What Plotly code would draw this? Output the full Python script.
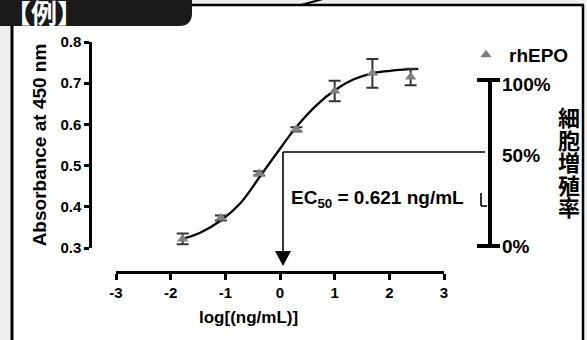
import plotly.graph_objects as go

# ---------------- data ----------------
log_conc = [-1.78, -1.08, -0.38, 0.30, 1.00, 1.69, 2.39]
absorbance = [0.322, 0.373, 0.481, 0.588, 0.681, 0.724, 0.715]
abs_sd = [0.013, 0.006, 0.005, 0.005, 0.025, 0.035, 0.020]

curve_x = [-1.74, -1.46, -1.07, -0.73, -0.37, -0.06, 0.30, 0.67, 1.00, 1.34, 1.69, 2.01, 2.38, 2.53]
curve_y = [0.324, 0.337, 0.368, 0.408, 0.473, 0.530, 0.594, 0.647, 0.683, 0.709, 0.724, 0.730, 0.734, 0.735]

x_ticks = [-3, -2, -1, 0, 1, 2, 3]
y_ticks = [0.3, 0.4, 0.5, 0.6, 0.7, 0.8]
pct_labels = ["100%", "50%", "0%"]
jp_title = "細胞増殖率"
ec50_text = "EC<sub>50</sub> = 0.621 ng/mL"

# ---------------- helpers ----------------
W, H = 587, 340
FONT = "Arial, Liberation Sans, sans-serif"
JFONT = "Noto Sans CJK JP, sans-serif"


def px(x):
    return x / W


def py(y):
    return 1 - y / H


fig = go.Figure()

fig.add_trace(go.Scatter(
    x=curve_x, y=curve_y, mode="lines", line=dict(color="black", width=2.3, shape="spline"),
    showlegend=False, hoverinfo="skip"))

fig.add_trace(go.Scatter(
    x=log_conc, y=absorbance, mode="markers", name="rhEPO",
    marker=dict(symbol="triangle-up", size=10, color="#808080"),
    error_y=dict(type="data", array=abs_sd, visible=True, color="#333333", thickness=2, width=6)))

shapes = []
# white card
shapes.append(dict(type="rect", xref="paper", yref="paper", x0=px(12), x1=px(583), y0=py(340), y1=py(5),
                   fillcolor="white", line=dict(width=0), layer="below"))
# card borders
for (x0, y0, x1, y1, w) in [(12, 20, 12, 341, 3), (190, 5, 584, 5, 2.5), (583, 5, 583, 341, 2.5)]:
    shapes.append(dict(type="line", xref="paper", yref="paper", x0=px(x0), y0=py(y0), x1=px(x1), y1=py(y1),
                       line=dict(color="black", width=w)))
# tab
tab = "M{},{} L{},{} L{},{} Q{},{} {},{} L{},{} Z".format(
    px(0), py(-2), px(192), py(-2), px(192), py(13), px(192), py(26), px(179), py(26), px(0), py(26))
shapes.append(dict(type="path", xref="paper", yref="paper", path=tab, fillcolor="#1a1a1a", line=dict(width=0)))
# small pointer tail
shapes.append(dict(type="line", xref="paper", yref="paper", x0=px(301), y0=py(5), x1=px(323), y1=py(-1),
                   line=dict(color="black", width=2)))
# EC50 guide lines
for (x0, y0, x1, y1) in [(283, 152, 485, 152), (283, 152, 283, 253), (481, 193, 481, 206), (481, 206, 487, 206)]:
    shapes.append(dict(type="line", xref="paper", yref="paper", x0=px(x0), y0=py(y0), x1=px(x1), y1=py(y1),
                       line=dict(color="black", width=1.6)))
arrow = "M{},{} L{},{} L{},{} Z".format(px(275), py(251), px(291), py(251), px(283), py(266))
shapes.append(dict(type="path", xref="paper", yref="paper", path=arrow, fillcolor="black", line=dict(width=0)))
# proliferation scale bar
for (x0, y0, x1, y1) in [(490, 80, 490, 246), (477, 80, 500, 80), (477, 246, 500, 246)]:
    shapes.append(dict(type="line", xref="paper", yref="paper", x0=px(x0), y0=py(y0), x1=px(x1), y1=py(y1),
                       line=dict(color="black", width=4)))

annotations = []
annotations.append(dict(text="【例】", x=px(44), y=py(12), xref="paper", yref="paper", showarrow=False,
                        xanchor="center", yanchor="middle",
                        font=dict(family=JFONT, size=26, color="white", weight="bold")))
annotations.append(dict(text=ec50_text, x=px(289), y=py(199), xref="paper", yref="paper", showarrow=False,
                        xanchor="left", yanchor="middle",
                        font=dict(family=FONT, size=19, color="black", weight="bold")))
for lab, yc in zip(pct_labels, [84, 156, 246]):
    annotations.append(dict(text=lab, x=px(500), y=py(yc), xref="paper", yref="paper", showarrow=False,
                            xanchor="left", yanchor="middle",
                            font=dict(family=FONT, size=19, color="black", weight="bold")))
for i, ch in enumerate(jp_title):
    annotations.append(dict(text=ch, x=px(568.5), y=py(116 + i * 22.6), xref="paper", yref="paper",
                            showarrow=False, xanchor="center", yanchor="middle",
                            font=dict(family=JFONT, size=22, color="black", weight="bold")))
annotations.append(dict(text="log[(ng/mL)]", x=px(248.5), y=py(317), xref="paper", yref="paper",
                        showarrow=False, xanchor="center", yanchor="middle",
                        font=dict(family=FONT, size=17, color="black", weight="bold")))

fig.update_layout(
    width=W, height=H, autosize=False,
    margin=dict(l=0, r=0, t=0, b=0, pad=0),
    paper_bgcolor="#eeeeee", plot_bgcolor="rgba(0,0,0,0)",
    font=dict(family=FONT, color="black"),
    shapes=shapes, annotations=annotations,
    legend=dict(x=px(463), y=py(55), xanchor="left", yanchor="middle", bgcolor="rgba(0,0,0,0)",
                font=dict(family=FONT, size=19, color="black", weight="bold"),
                itemwidth=36, tracegroupgap=0),
    xaxis=dict(domain=[px(116), px(444)], range=[-3, 3], anchor="free", position=py(272), automargin=False,
               tickvals=x_ticks, ticktext=[str(v) for v in x_ticks],
               showline=True, linecolor="black", linewidth=2.5, ticks="outside", ticklen=6, tickwidth=2.5,
               tickcolor="black", showgrid=False, zeroline=False,
               tickfont=dict(family=FONT, size=15, color="black", weight="bold")),
    yaxis=dict(domain=[py(248), py(42)], range=[0.3, 0.8], anchor="free", position=px(90), automargin=False,
               tickvals=y_ticks, ticktext=["%.1f" % v for v in y_ticks],
               showline=True, linecolor="black", linewidth=2.5, ticks="outside", ticklen=5, tickwidth=2.5,
               tickcolor="black", showgrid=False, zeroline=False,
               tickfont=dict(family=FONT, size=15, color="black", weight="bold"),
               title=dict(text="Absorbance at 450 nm", standoff=7,
                          font=dict(family=FONT, size=19, color="black", weight="bold"))),
)

fig.write_html("out.html", config={"displayModeBar": False},
               post_script="document.body.style.margin='0';")
